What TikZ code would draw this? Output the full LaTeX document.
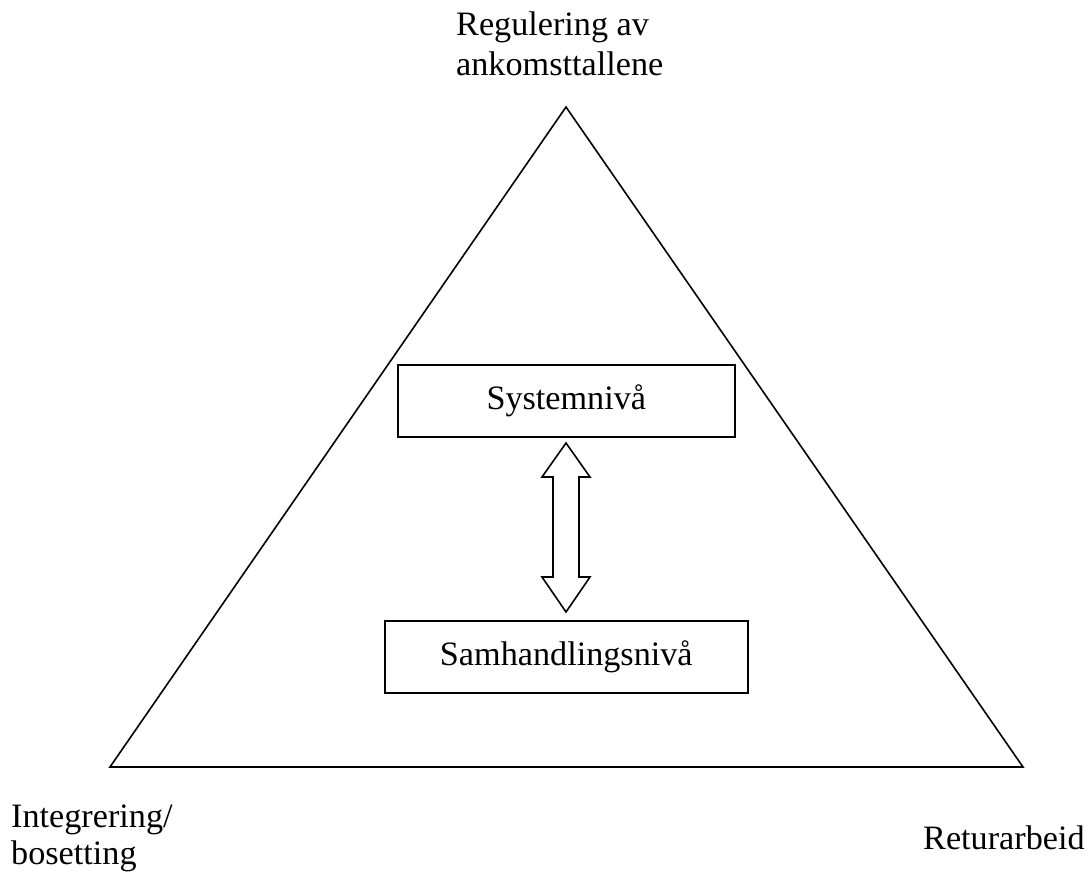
\documentclass[tikz,border=0pt]{standalone}
\usepackage{fontspec}
\setmainfont{Liberation Serif}
\begin{document}
\begin{tikzpicture}[x=1pt,y=-1pt,
  every node/.style={font=\fontsize{34.2}{40}\selectfont, inner sep=0pt},
  line/.style={line width=1.6pt, line join=miter},
  levelbox/.style={draw, line width=1.6pt, anchor=north west}]
\useasboundingbox (0,0) rectangle (1089,873);
% triangle
\coordinate (top) at (566,107);
\coordinate (bl) at (110,767);
\coordinate (br) at (1023,767);
\draw[line] (top) -- (bl) -- (br) -- cycle;
% boxes
\node[levelbox, minimum width=337pt, minimum height=72pt] (sys) at (397,364) {};
\node at (sys.center) {Systemnivå};
\node[levelbox, minimum width=363pt, minimum height=72pt] (sam) at (384,620) {};
\node at (sam.center) {Samhandlingsnivå};
% double arrow
\coordinate (at) at (566,443);
\coordinate (ab) at (566,612);
\draw[line] (at) -- ++(24,34) -- ++(-11,0) -- ++(0,100) -- ++(11,0) -- (ab)
  -- ++(-24,-35) -- ++(11,0) -- ++(0,-100) -- ++(-11,0) -- cycle;
% corner labels
\node[anchor=base west] (reg) at (456,35) {Regulering av};
\node[anchor=base west] (ank) at (456,75) {ankomsttallene};
\node[anchor=base west] (int) at (11,827) {Integrering/};
\node[anchor=base west] (bos) at (11,864) {bosetting};
\node[anchor=base west] (ret) at (923,849) {Returarbeid};
\end{tikzpicture}
\end{document}
